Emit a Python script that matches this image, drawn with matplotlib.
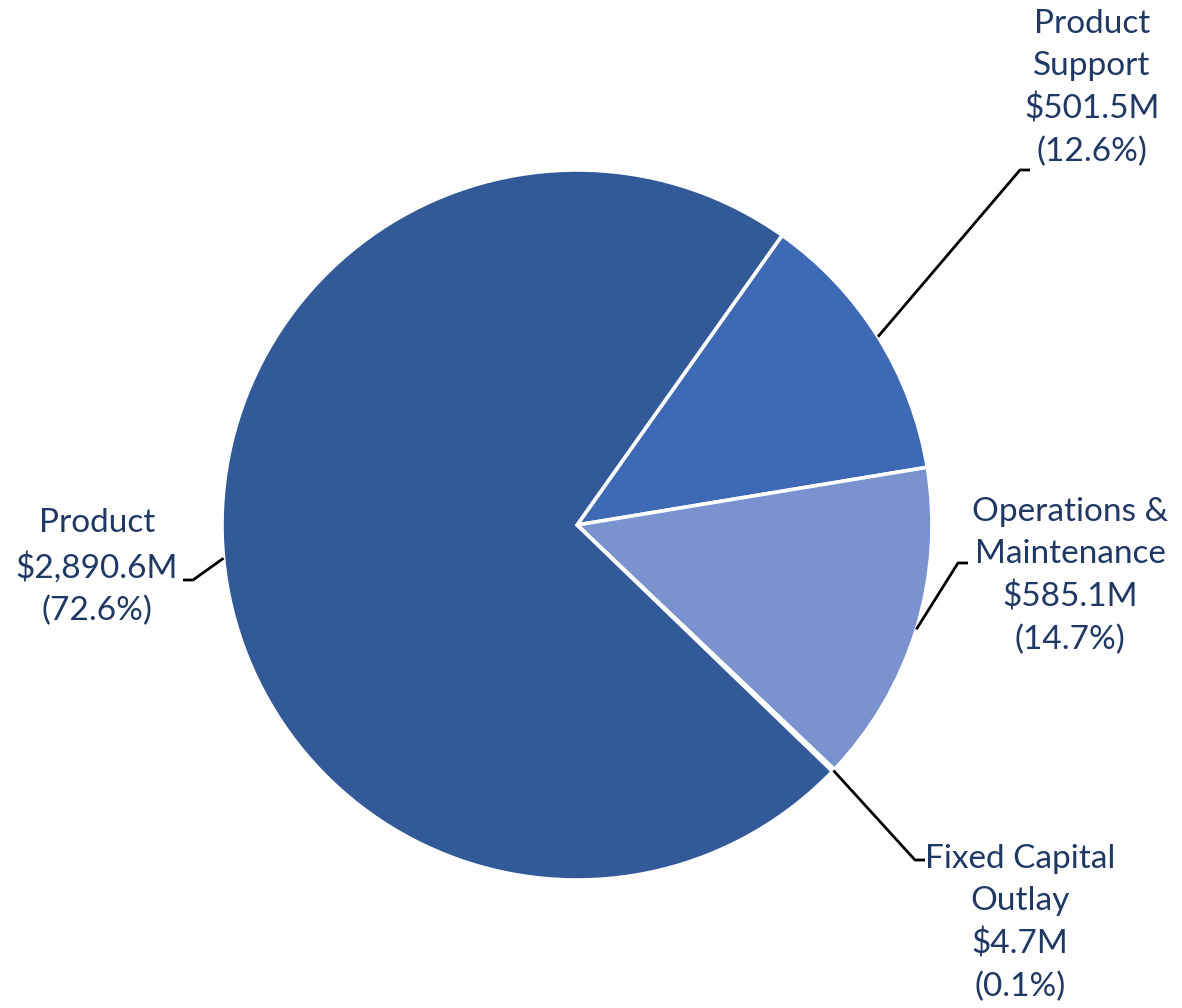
import numpy as np
import matplotlib
matplotlib.use("Agg")
import matplotlib.pyplot as plt

# slice data (clockwise from the top-right boundary)
categories = ["Product\nSupport", "Operations &\nMaintenance", "Fixed Capital\nOutlay", "Product"]
values = [501.5, 585.1, 4.7, 2890.6]
value_labels = ["$501.5M", "$585.1M", "$4.7M", "$2,890.6M"]
pct_labels = ["(12.6%)", "(14.7%)", "(0.1%)", "(72.6%)"]

colors = ["#3E69B4", "#7A93CE", "#335A98", "#335A98"]
text_color = "#1F3864"

W, H = 1182, 1008
fig = plt.figure(figsize=(W / 100, H / 100), dpi=100)
ax = fig.add_axes([0, 0, 1, 1])

cx, cy, r = 577, H - 525, 355
wedges, _ = ax.pie(values, colors=colors, startangle=54.7, counterclock=False,
                   center=(cx, cy), radius=r, frame=True,
                   wedgeprops=dict(edgecolor="white", linewidth=2.6))
ax.set_xlim(0, W)
ax.set_ylim(0, H)
ax.set_aspect("equal")
ax.axis("off")

# label layout in pixel coords (y from top): text centre, elbow, elbow end
layout = [
    ((1092, 88), (1020, 170), (1030, 170)),
    ((1070, 576), (958, 563), (968, 563)),
    ((1020, 923), (915, 860), (925, 860)),
    ((97, 567), (193, 580), (183, 580)),
]

for w, cat, val, pct, (tpos, elb, end) in zip(wedges, categories, value_labels, pct_labels, layout):
    mid = np.deg2rad((w.theta1 + w.theta2) / 2)
    x0 = cx + r * np.cos(mid)
    y0 = cy + r * np.sin(mid)
    ax.plot([x0, elb[0], end[0]], [y0, H - elb[1], H - end[1]],
            color="black", lw=2, solid_capstyle="butt", zorder=3)
    ax.text(tpos[0], H - tpos[1], cat + "\n" + val + "\n" + pct,
            ha="center", va="center", multialignment="center",
            fontsize=24, family="Lato", color=text_color, linespacing=1.5)

fig.savefig("out.png", dpi=100, facecolor="white")
